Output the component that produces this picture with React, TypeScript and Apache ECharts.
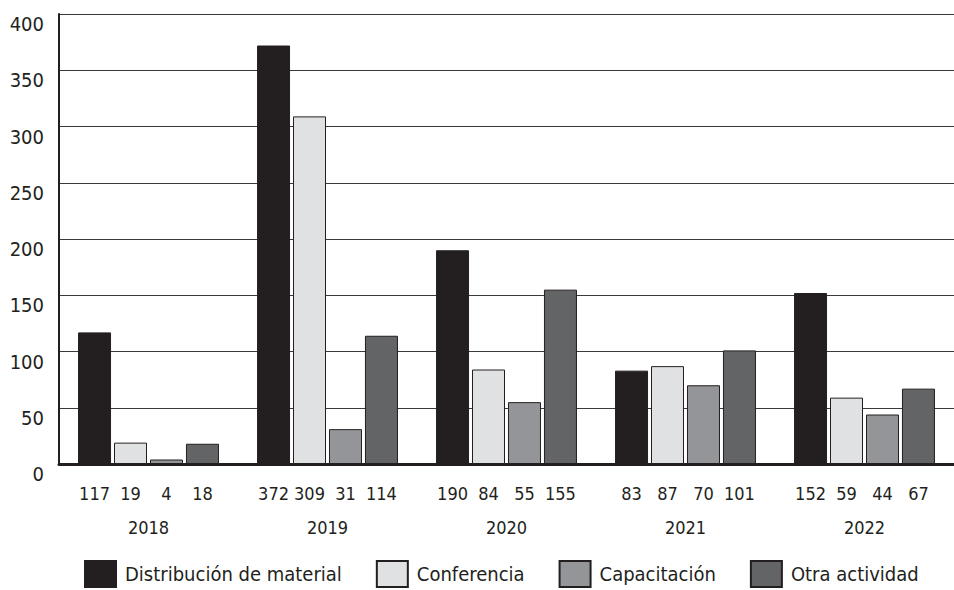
import React, { useEffect, useRef } from "react";
import * as echarts from "echarts";

const years = ["2018", "2019", "2020", "2021", "2022"];
const seriesNames = ["Distribución de material", "Conferencia", "Capacitación", "Otra actividad"];
const distribucion = [117, 372, 190, 83, 152];
const conferencia = [19, 309, 84, 87, 59];
const capacitacion = [4, 31, 55, 70, 44];
const otra = [18, 114, 155, 101, 67];
const colors = ["#231f20", "#e0e1e3", "#939598", "#636466"];

const FONT = "'DejaVu Sans Condensed', 'DejaVu Sans', sans-serif";
const INK = "#231f20";

export default function App() {
  const ref = useRef<HTMLDivElement>(null);
  useEffect(() => {
    if (!ref.current) return;
    const chart = echarts.init(ref.current, null, { renderer: "svg" });
    const data = [distribucion, conferencia, capacitacion, otra];
    chart.setOption({
      animation: false,
      textStyle: { fontFamily: FONT },
      grid: { left: 59, top: 14, width: 903, height: 450, containLabel: false },
      legend: {
        left: 84,
        top: 560,
        padding: 0,
        itemWidth: 31,
        itemHeight: 26,
        itemGap: 34,
        icon: "rect",
        textStyle: { fontFamily: FONT, fontSize: 20, color: INK, padding: [0, 0, 0, 4] },
        data: seriesNames,
      },
      xAxis: {
        type: "category",
        data: years,
        axisTick: { show: false },
        axisLine: { show: true, lineStyle: { color: INK, width: 3 } },
        axisLabel: { fontFamily: FONT, fontSize: 18, color: INK, margin: 54 },
      },
      yAxis: {
        type: "value",
        min: 0,
        max: 400,
        interval: 50,
        axisLine: { show: true, lineStyle: { color: INK, width: 2 } },
        axisTick: { show: false },
        splitLine: { lineStyle: { color: "#3a3a3a", width: 1 } },
        axisLabel: {
          fontFamily: FONT,
          fontSize: 20,
          color: INK,
          margin: 15,
          verticalAlign: "top",
        },
      },
      series: seriesNames.map((name, i) => ({
        name,
        type: "bar",
        data: data[i],
        barWidth: 33,
        barGap: "9%",
        itemStyle: { color: colors[i], borderColor: INK, borderWidth: 1 },
        label: {
          show: true,
          position: "insideBottom",
          distance: 0,
          offset: [0, 38],
          color: INK,
          fontFamily: FONT,
          fontSize: 18,
          formatter: "{c}",
        },
      })),
    });
    return () => chart.dispose();
  }, []);
  return <div ref={ref} style={{ width: 954, height: 590, position: "absolute", left: 0, top: 0 }} />;
}
